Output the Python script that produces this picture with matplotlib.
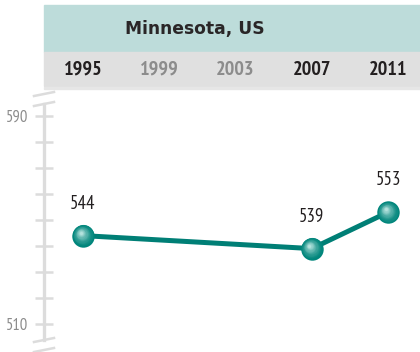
import numpy as np
import matplotlib
matplotlib.use("Agg")
import matplotlib.pyplot as plt
from matplotlib.patches import Rectangle
from matplotlib.lines import Line2D
from matplotlib.transforms import ScaledTranslation
from matplotlib.colors import to_rgb

# scores
years = [1995, 2007, 2011]
scores = [544, 539, 553]
year_ticks = [1995, 1999, 2003, 2007, 2011]
year_has_data = [True, False, False, True, True]
title = "Minnesota, US"

NARROW = ["PT Sans Narrow", "DejaVu Sans"]
plt.rcParams['font.family'] = NARROW

W, H = 420, 352
fig = plt.figure(figsize=(W / 100, H / 100), dpi=100)


def fx(x):
    return x / W


def fy(y):
    return 1 - y / H


# header bands
fig.patches.append(Rectangle((fx(44), fy(52)), fx(420) - fx(44), fy(5) - fy(52),
                             transform=fig.transFigure, color="#bddcda", zorder=0))
fig.patches.append(Rectangle((fx(44), fy(86)), fx(420) - fx(44), fy(52) - fy(86),
                             transform=fig.transFigure, color="#e0e0e0", zorder=0))
fig.patches.append(Rectangle((fx(44), fy(89)), fx(420) - fx(44), fy(87) - fy(89),
                             transform=fig.transFigure, color="#e6e6e6", zorder=0))
fig.text(fx(195), fy(29), title, ha="center", va="center", fontsize=12.3,
         fontweight="bold", color="#2a2627", family=["DejaVu Sans"])

# main axes
ax = fig.add_axes([fx(44), 0, fx(420) - fx(44), fy(89)])
ax.set_facecolor("none")
ppu = 2.6  # pixels per score point
ax.set_ylim(510 - 28 / ppu, 590 + 27 / ppu)
xpp = 4 / 76.25  # years per pixel
ax.set_xlim(1995 - 39 * xpp, 1995 + 337 * xpp)

for s in ["top", "right", "bottom"]:
    ax.spines[s].set_visible(False)
ax.spines["left"].set_color("#dcdcdc")
ax.spines["left"].set_linewidth(2.4)
ax.spines["left"].set_bounds(510 - 16 / ppu, 590 + 12 / ppu)
ax.set_xticks([])
ax.set_yticks([510, 590])
ax.set_yticks(np.arange(520, 590, 10), minor=True)
ax.tick_params(axis="y", which="both", direction="inout", length=12.5, width=1.8,
               color="#dcdcdc", labelcolor="#8c8c8c", labelsize=12, pad=5)

# axis break marks
for y0 in [106, 96, 342, 352]:
    fig.add_artist(Line2D([fx(34), fx(54)], [fy(y0), fy(y0 - 4)],
                          transform=fig.transFigure, color="#dcdcdc", lw=1.8))

# year labels in the grey band
for yr, has in zip(year_ticks, year_has_data):
    xp = 83 + (yr - 1995) / xpp
    fig.text(fx(xp), fy(70), str(yr), ha="center", va="center", fontsize=14.5,
             fontweight="bold", color="#231f20" if has else "#8c8c8c")

# line and shaded markers
teal = "#007f76"
ax.plot(years, scores, color=teal, lw=3.6, solid_capstyle="butt", zorder=2)
dark = np.array(to_rgb("#00857b"))
light = np.array(to_rgb("#b4e2dd"))
n = 16
for k in range(n):
    t = k / (n - 1)
    r = 11.2 * (1 - t) + 1.5 * t
    off = ScaledTranslation(-2.5 * t / 100, 3.0 * t / 100, fig.dpi_scale_trans)
    col = dark * (1 - t ** 1.5) + light * t ** 1.5
    ax.scatter(years, scores, s=(2 * r * 0.72) ** 2, color=col, lw=0, zorder=3 + k * 0.01,
               transform=ax.transData + off)

for yr, sc in zip(years, scores):
    ax.annotate(str(sc), (yr, sc), xytext=(0, 23), textcoords="offset points",
                ha="center", va="center", fontsize=13.5, color="#231f20")

fig.savefig("out.png", dpi=100)
